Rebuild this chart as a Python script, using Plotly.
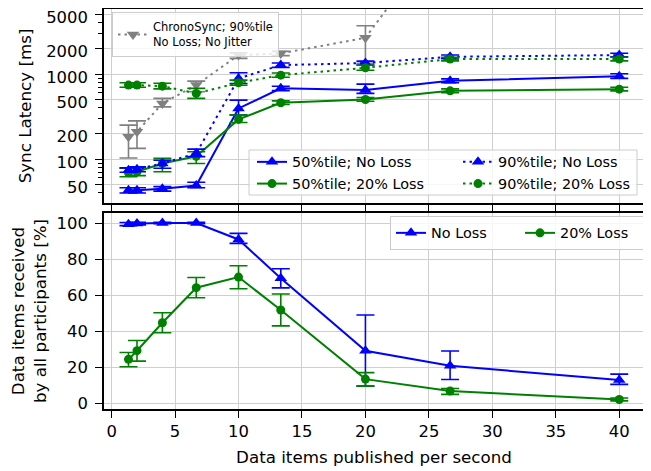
import plotly.graph_objects as go
from plotly.subplots import make_subplots

x = [1.33, 2, 4, 6.67, 10, 13.33, 20, 26.67, 40]

# ChronoSync 90%tile (no loss, no jitter)
cs90 = [183, 210, 452, 743, 1675, 1750, 2673, 59000, 120000]
cs90_hi = [251, 282, 518, 828, 1780, 1850, 3700, 62000, 125000]
cs90_lo = [103, 134, 412, 620, 1530, 1650, 1336, 56000, 115000]

# 90%tile No Loss
p90_nl = [74, 76, 89, 117, 890, 1276, 1350, 1598, 1675]
p90_nl_hi = [79, 81, 97, 131, 1036, 1350, 1420, 1680, 1760]
p90_nl_lo = [70, 71, 78, 107, 777, 1200, 1280, 1520, 1600]

# 90%tile 20% Loss
p90_l = [743, 743, 722, 593, 790, 973, 1186, 1502, 1502]
p90_l_hi = [790, 790, 780, 679, 850, 1030, 1270, 1580, 1580]
p90_l_lo = [700, 700, 670, 518, 740, 920, 1110, 1430, 1430]

# 50%tile No Loss
p50_nl = [43, 43, 44.8, 49, 395, 680, 649, 834, 947]
p50_nl_hi = [46, 46, 47.5, 53.5, 494, 720, 763, 880, 1010]
p50_nl_lo = [40, 40, 42, 46, 330, 640, 593, 790, 890]

# 50%tile 20% Loss
p50_l = [69, 71, 89, 108, 293, 460, 503, 636, 666]
p50_l_hi = [78, 79, 102, 122, 330, 485, 530, 670, 700]
p50_l_lo = [62, 64, 71, 89, 270, 440, 480, 605, 635]

# Delivery ratio [%]
dr_nl = [99.4, 99.7, 100, 100, 90.9, 69.3, 29.1, 20.7, 12.8]
dr_nl_hi = [100.3, 100.4, 100.4, 100.4, 94.3, 74.6, 48.9, 28.9, 16.1]
dr_nl_lo = [98.6, 99.0, 99.6, 99.6, 88.7, 64.0, 9.4, 13.1, 10.4]

dr_l = [24.3, 29.1, 44.6, 64.1, 70.0, 51.7, 13.3, 6.7, 2.0]
dr_l_hi = [28.1, 34.8, 50.2, 69.8, 76.3, 60.6, 16.9, 8.1, 2.8]
dr_l_lo = [20.2, 23.3, 39.1, 58.5, 63.5, 42.9, 9.4, 4.8, 1.2]

xticks = [0, 5, 10, 15, 20, 25, 30, 35, 40]
ylog_ticks = [50, 100, 200, 500, 1000, 2000, 5000]
ylin_ticks = [0, 20, 40, 60, 80, 100]

BLUE = "#0000ff"
GREEN = "#008000"
GRAY = "#808080"
FONT = "DejaVu Sans"
DOT = "2.5px,4px"

# figure geometry; the page body adds an 8 px offset
OFF = 8
FW, FH = 643, 463
PL, PT, PW, PH = 96, 1, 540, 400


def px_x(wx):
    return (wx - OFF - PL) / PW


def px_y(wy):
    return (PH - (wy - OFF - PT)) / PH


fig = make_subplots(rows=2, cols=1, shared_xaxes=False, vertical_spacing=0.025)


def err(v, hi, lo, color):
    return dict(type="data", symmetric=False,
                array=[h - a for h, a in zip(hi, v)],
                arrayminus=[a - l for a, l in zip(v, lo)],
                color=color, thickness=1.6, width=9)


def add(v, hi, lo, color, dash, sym, size, name, legend, row, rank):
    fig.add_trace(go.Scatter(
        x=x, y=v, mode="lines+markers", name=name,
        line=dict(color=color, width=2, dash=dash),
        marker=dict(symbol=sym, size=size, color=color),
        error_y=err(v, hi, lo, color),
        legend=legend, legendrank=rank, showlegend=True, cliponaxis=True,
    ), row=row, col=1)


add(cs90, cs90_hi, cs90_lo, GRAY, DOT, "triangle-down", 11,
    "ChronoSync; 90%tile<br>No Loss; No Jitter", "legend", 1, 1)
add(p50_nl, p50_nl_hi, p50_nl_lo, BLUE, "solid", "triangle-up", 11,
    "50%tile; No Loss", "legend2", 1, 1)
add(p50_l, p50_l_hi, p50_l_lo, GREEN, "solid", "circle", 9,
    "50%tile; 20% Loss", "legend2", 1, 2)
add(p90_nl, p90_nl_hi, p90_nl_lo, BLUE, DOT, "triangle-up", 11,
    "90%tile; No Loss", "legend4", 1, 1)
add(p90_l, p90_l_hi, p90_l_lo, GREEN, DOT, "circle", 9,
    "90%tile; 20% Loss", "legend4", 1, 2)
add(dr_nl, dr_nl_hi, dr_nl_lo, BLUE, "solid", "triangle-up", 11,
    "No Loss", "legend3", 2, 1)
add(dr_l, dr_l_hi, dr_l_lo, GREEN, "solid", "circle", 9,
    "20% Loss", "legend3", 2, 2)

axis_common = dict(showline=True, linecolor="black", linewidth=1.6, mirror=True,
                   ticks="outside", ticklen=7, tickwidth=1.2, tickcolor="black",
                   showgrid=True, gridcolor="#cfcfcf", gridwidth=1, zeroline=False,
                   automargin=False, ticklabeloverflow="allow",
                   tickfont=dict(family=FONT, size=16.4, color="black"))

top_dom = [px_y(203), 1.0]
bot_dom = [0.0, px_y(213)]
TITLE_FONT = dict(family=FONT, size=16.7, color="black")

fig.update_xaxes(**axis_common, range=[-0.6, 41.95], tickvals=xticks)
fig.update_xaxes(showticklabels=False, row=1, col=1)
fig.update_xaxes(title=dict(text="Data items published per second", font=TITLE_FONT, standoff=11),
                 row=2, col=1)

fig.update_yaxes(**axis_common, ticklabelstandoff=4)
fig.update_yaxes(type="log", range=[1.484, 3.766], tickvals=ylog_ticks,
                 ticktext=[str(t) for t in ylog_ticks], domain=top_dom,
                 ticklabelshift=3,
                 minor=dict(ticks="outside", ticklen=4, tickcolor="black", showgrid=False, dtick="D1"),
                 title=dict(text="Sync Latency [ms]", font=TITLE_FONT, standoff=10),
                 row=1, col=1)
fig.update_yaxes(range=[-3.3, 105.6], tickvals=ylin_ticks, domain=bot_dom,
                 title=dict(text="Data items received<br>by all participants [%]",
                            font=TITLE_FONT, standoff=10),
                 row=2, col=1)

LEG_FONT = dict(family=FONT, size=14.4, color="black")
clear_leg = dict(bgcolor="rgba(0,0,0,0)", borderwidth=0, font=LEG_FONT,
                 xanchor="left", yanchor="top", tracegroupgap=0)

# framed box for the 2-column latency legend
fig.add_shape(type="rect", xref="paper", yref="paper",
              x0=px_x(249), x1=px_x(637), y0=px_y(195), y1=px_y(150),
              fillcolor="rgba(255,255,255,0.8)", line=dict(color="#cccccc", width=1),
              layer="above")

fig.update_layout(
    width=FW, height=FH,
    margin=dict(l=PL, r=FW - PL - PW, t=PT, b=FH - PT - PH),
    plot_bgcolor="white", paper_bgcolor="white",
    showlegend=True,
    legend=dict(bgcolor="rgba(255,255,255,0.8)", bordercolor="#cccccc", borderwidth=1,
                font=dict(family=FONT, size=11.5, color="black"),
                x=px_x(112), y=px_y(12), xanchor="left", yanchor="top"),
    legend2=dict(**clear_leg, x=px_x(252), y=px_y(146)),
    legend4=dict(**clear_leg, x=px_x(458), y=px_y(146)),
    legend3=dict(bgcolor="rgba(255,255,255,0.8)", bordercolor="#cccccc", borderwidth=1,
                 font=LEG_FONT, x=px_x(390), y=px_y(216), xanchor="left", yanchor="top",
                 orientation="h", entrywidth=84, traceorder="normal"),
)

fig.write_html("out.html", config={"displayModeBar": False})
